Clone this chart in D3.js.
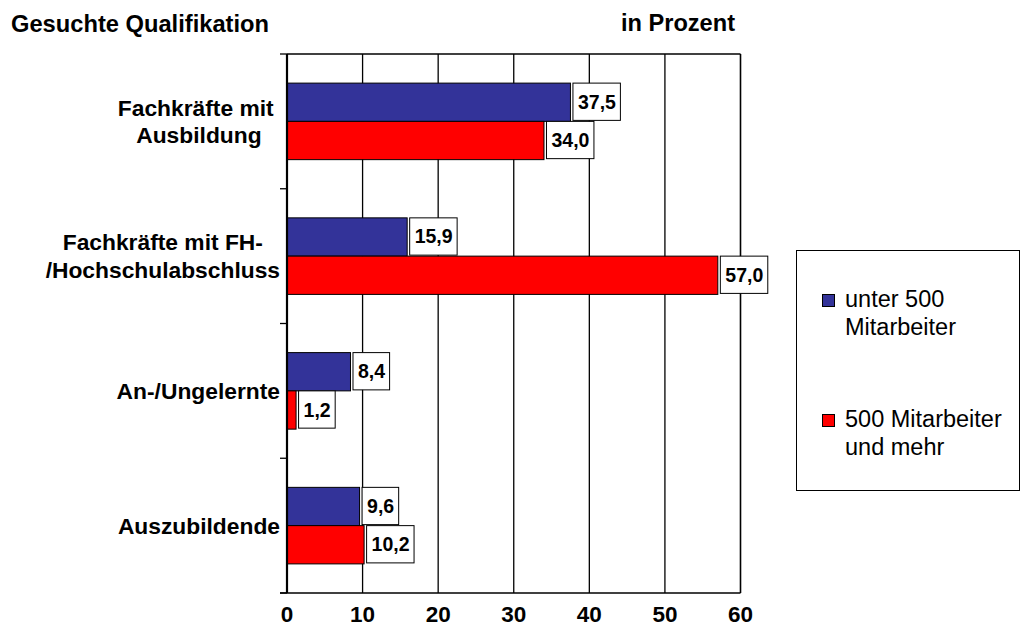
<!DOCTYPE html>
<html>
<head>
<meta charset="utf-8">
<script src="https://cdn.jsdelivr.net/npm/d3@7"></script>
<style>
  html, body { margin: 0; padding: 0; background: #fff; }
  svg { display: block; }
  text { font-family: "Liberation Sans", Arial, sans-serif; fill: #000; white-space: pre; }
</style>
</head>
<body>
<svg id="chart" width="1021" height="641"></svg>
<script>
// ---- data ----
const categories = ["Fachkräfte mit \nAusbildung", "Fachkräfte mit FH-\n/Hochschulabschluss", "An-/Ungelernte", "Auszubildende"];
const seriesNames = ["unter 500\nMitarbeiter", "500 Mitarbeiter\nund mehr"];
const under500 = [37.5, 15.9, 8.4, 9.6];
const over500 = [34.0, 57.0, 1.2, 10.2];
const xTicks = [0, 10, 20, 30, 40, 50, 60];
const colors = ["#333399", "#FF0000"];
const titleLeft = "Gesuchte Qualifikation";
const titleRight = "in Prozent";

const series = [under500, over500];
const svg = d3.select("#chart");

const plot = { left: 287, right: 740.5, top: 54, bottom: 593 };
const x = d3.scaleLinear().domain([0, 60]).range([plot.left, plot.right]);
const y = d3.scaleBand().domain(d3.range(categories.length)).range([plot.top, plot.bottom])
  .paddingInner(0.432).paddingOuter(0.216);
const ySub = d3.scaleBand().domain([0, 1]).range([0, y.bandwidth()]).padding(0);
const fmt = v => d3.format(".1f")(v).replace(".", ",");

function stext(g, str, tx, ty, opts) {
  return g.append("text")
    .attr("x", tx).attr("y", ty)
    .attr("text-anchor", opts.anchor || "start")
    .style("font-size", opts.size + "px")
    .style("font-weight", opts.bold ? "bold" : "normal")
    .text(str);
}

// plot frame
const frame = svg.append("g");
frame.append("line").attr("x1", plot.left).attr("x2", plot.right).attr("y1", plot.top).attr("y2", plot.top)
  .attr("stroke", "#000").attr("stroke-width", 1.3);
frame.append("line").attr("x1", 280).attr("x2", plot.right).attr("y1", plot.bottom).attr("y2", plot.bottom)
  .attr("stroke", "#000").attr("stroke-width", 1.3);

// gridlines
svg.append("g").selectAll("line").data(xTicks.slice(1)).join("line")
  .attr("x1", d => x(d)).attr("x2", d => x(d))
  .attr("y1", plot.top).attr("y2", plot.bottom)
  .attr("stroke", "#000").attr("stroke-width", d => d === 60 ? 1.6 : 1.3);

// category ticks
const bounds = d3.range(categories.length + 1).map(i => plot.top + i * y.step());
svg.append("g").selectAll("line").data(bounds).join("line")
  .attr("x1", 280).attr("x2", plot.left).attr("y1", d => d).attr("y2", d => d)
  .attr("stroke", "#000").attr("stroke-width", 1.3);

// bars
const barG = svg.append("g");
series.forEach((vals, s) => {
  barG.selectAll(null).data(vals).join("rect")
    .attr("x", x(0))
    .attr("y", (d, i) => y(i) + ySub(s))
    .attr("width", d => x(d) - x(0))
    .attr("height", ySub.bandwidth())
    .attr("fill", colors[s])
    .attr("stroke", "#000").attr("stroke-width", 1);
});

// left axis line
svg.append("line").attr("x1", plot.left).attr("x2", plot.left).attr("y1", plot.top).attr("y2", plot.bottom)
  .attr("stroke", "#000").attr("stroke-width", 2.2);

// value labels
const labG = svg.append("g");
series.forEach((vals, s) => {
  vals.forEach((v, i) => {
    const bx = x(v) + 2.5;
    const by = y(i) + ySub(s);
    const h = ySub.bandwidth() - 1;
    const rect = labG.append("rect").attr("x", bx).attr("y", by).attr("height", h)
      .attr("fill", "#fff").attr("stroke", "#000").attr("stroke-width", 1);
    const t = stext(labG, fmt(v), bx + 5, by + h / 2 + 7, { size: 19.5, bold: true });
    const w = t.node().getComputedTextLength();
    rect.attr("width", w + 9.5);
  });
});

// category labels
const catG = svg.append("g");
categories.forEach((c, i) => {
  const lines = c.split("\n");
  const cy = y(i) - y.step() * y.paddingInner() / 2 + y.step() / 2;
  const lh = 27.5;
  const first = cy - (lines.length - 1) * lh / 2 + 8;
  const texts = lines.map((ln, k) => stext(catG, ln, 0, first + k * lh, { size: 22.8, bold: true, anchor: "middle" }));
  const maxW = d3.max(texts, t => t.node().getComputedTextLength());
  const cx = 280 - maxW / 2;
  texts.forEach(t => t.attr("x", cx));
});

// x tick labels
const tickG = svg.append("g");
xTicks.forEach(v => stext(tickG, String(v), x(v), 622, { size: 22.5, bold: true, anchor: "middle" }));

// titles
stext(svg, titleLeft, 11, 32, { size: 23.7, bold: true });
stext(svg, titleRight, 735, 31, { size: 23.6, bold: true, anchor: "end" });

// legend
const leg = svg.append("g");
leg.append("rect").attr("x", 796.5).attr("y", 250.5).attr("width", 223).attr("height", 240)
  .attr("fill", "#fff").attr("stroke", "#000").attr("stroke-width", 1);
const legY = [307, 427];
seriesNames.forEach((name, s) => {
  leg.append("rect").attr("x", 822.5).attr("y", legY[s] - 12.5).attr("width", 12).attr("height", 12)
    .attr("fill", colors[s]).attr("stroke", "#000").attr("stroke-width", 1);
  name.split("\n").forEach((ln, k) => stext(leg, ln, 845, legY[s] + k * 28.3, { size: 23.5 }));
});
</script>
</body>
</html>
